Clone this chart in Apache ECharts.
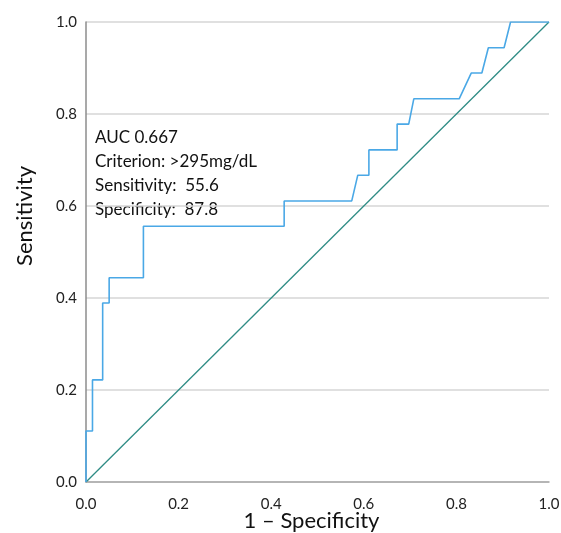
<!DOCTYPE html>
<html>
<head>
<meta charset="utf-8">
<script src="https://cdn.jsdelivr.net/npm/echarts@6/dist/echarts.min.js"></script>
<style>
  html, body { margin: 0; padding: 0; background: #fff; }
  #picture1 { width: 561px; height: 533px; }
</style>
</head>
<body>
<div id="picture1"></div>
<script>
// ROC curve points: [1 - specificity, sensitivity]
var rocPoints = [
    [0, 0], [0, 0.111], [0.014, 0.111], [0.014, 0.222], [0.036, 0.222],
    [0.036, 0.389], [0.050, 0.389], [0.050, 0.444], [0.124, 0.444],
    [0.124, 0.556], [0.428, 0.556], [0.428, 0.611], [0.574, 0.611],
    [0.587, 0.667], [0.611, 0.667], [0.611, 0.722], [0.672, 0.722],
    [0.672, 0.778], [0.697, 0.778], [0.708, 0.833], [0.806, 0.833],
    [0.832, 0.889], [0.855, 0.889], [0.869, 0.944], [0.903, 0.944],
    [0.917, 1.0], [1, 1]
];
var refLine = [[0, 0], [1, 1]];
var statLines = ['AUC 0.667', 'Criterion: >295mg/dL', 'Sensitivity:  55.6', 'Specificity:  87.8'];

var fontName = 'Lato, "Open Sans", sans-serif';

var myChart1 = echarts.init(document.getElementById('picture1'));
var option = {
    animation: false,
    grid: { left: 86, right: 12, top: 22, bottom: 51, outerBoundsMode: 'none', containLabel: false },
    textStyle: { fontFamily: fontName },
    xAxis: {
        type: 'value',
        min: 0, max: 1, interval: 0.2,
        name: '1 – Specificity',
        nameLocation: 'middle',
        nameGap: 28,
        nameMoveOverlap: false,
        nameTextStyle: { fontSize: 22, color: '#111', fontFamily: fontName, padding: [0, 12, 0, 0] },
        axisLine: { show: true, lineStyle: { color: '#a6a6a6', width: 1.5 } },
        axisTick: { show: false },
        splitLine: { show: false },
        axisLabel: {
            fontSize: 15, color: '#222', margin: 15, fontFamily: fontName,
            formatter: function (v) { return v.toFixed(1); }
        }
    },
    yAxis: {
        type: 'value',
        min: 0, max: 1, interval: 0.2,
        name: 'Sensitivity',
        nameLocation: 'middle',
        nameGap: 50,
        nameMoveOverlap: false,
        nameTextStyle: { fontSize: 22, color: '#111', fontFamily: fontName, padding: [0, 0, 0, 72] },
        axisLine: { show: true, lineStyle: { color: '#8c8c8c', width: 1.5 } },
        axisTick: { show: false },
        splitLine: { show: true, lineStyle: { color: '#d6d6d6', width: 1.5 } },
        axisLabel: {
            fontSize: 15, color: '#222', margin: 9, fontFamily: fontName,
            formatter: function (v) { return v.toFixed(1); }
        }
    },
    graphic: [{
        type: 'text',
        left: 95,
        top: 126,
        style: {
            text: statLines.join('\n'),
            fontSize: 17,
            lineHeight: 24,
            fill: '#111',
            fontFamily: fontName
        }
    }],
    series: [
        {
            name: 'Reference',
            type: 'line',
            data: refLine,
            showSymbol: false,
            lineStyle: { color: '#2f8c85', width: 1.3 },
            z: 2
        },
        {
            name: 'ROC',
            type: 'line',
            data: rocPoints,
            showSymbol: false,
            lineStyle: { color: '#4aa8e6', width: 1.6 },
            z: 3
        }
    ]
};
myChart1.setOption(option);
</script>
</body>
</html>
